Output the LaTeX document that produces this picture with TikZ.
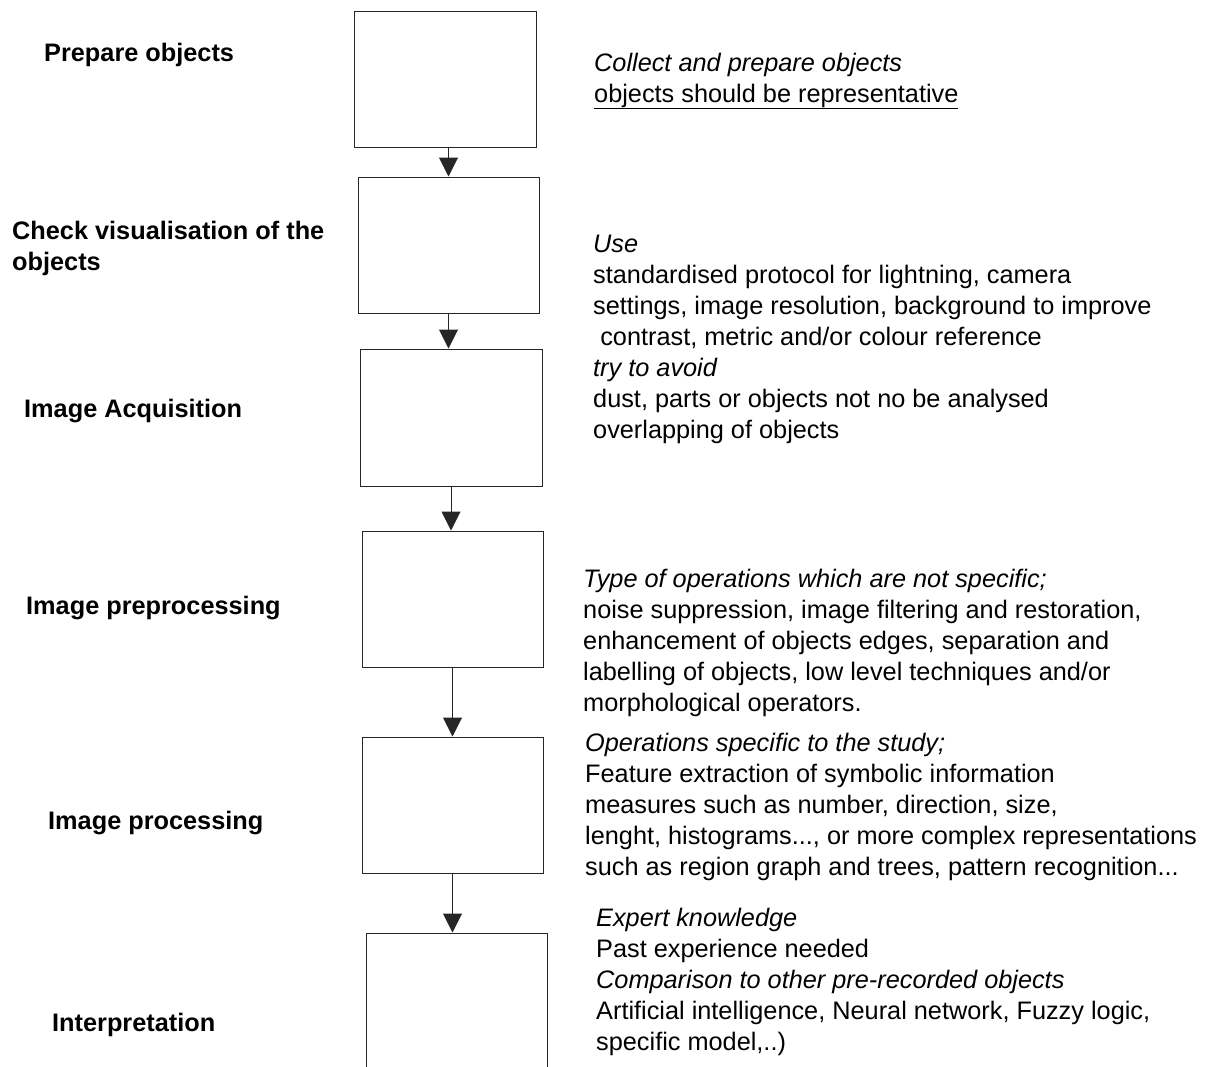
\documentclass[tikz,border=0pt]{standalone}
\usepackage{fontspec}
\setmainfont{Liberation Sans}
\usetikzlibrary{arrows.meta}

\newcommand{\bodysize}{\fontsize{25.3}{31}\selectfont}

\tikzset{
  stepbox/.style={draw=black!85, line width=1pt, minimum width=181pt, minimum height=136pt, inner sep=0pt},
  steplabel/.style={anchor=base west, font=\bodysize\bfseries, inner sep=0pt, align=left},
  note/.style={anchor=base west, font=\bodysize, inner sep=0pt, align=left},
  flow/.style={-{Triangle[length=19pt, width=19pt]}, line width=1pt, draw=black!85}
}

\begin{document}
\begin{tikzpicture}[x=1pt, y=-1pt]
    \clip (0,0) rectangle (1207,1066);

    % the steps
    \node[stepbox, minimum width=182pt] (prepbox) at (445,79) {};
    \node[stepbox] (visbox) at (448.5,245) {};
    \node[stepbox, minimum width=182pt, minimum height=137pt] (acqbox) at (451,417.5) {};
    \node[stepbox] (prebox) at (452.5,599) {};
    \node[stepbox] (procbox) at (452.5,805) {};
    \node[stepbox] (interbox) at (456.5,1001) {};

    \draw[flow] (prepbox.south -| visbox.north) -- (visbox.north);
    \foreach \a/\b in {visbox/acqbox, acqbox/prebox, prebox/procbox, procbox/interbox}
      \draw[flow] (\a.south) -- (\a.south |- \b.north);

    % step names (anchored on the last baseline)
    \node[steplabel] (preplabel) at (44,61) {Prepare objects};
    \node[steplabel] (vislabel) at (12,270) {Check visualisation of the\\objects};
    \node[steplabel] (acqlabel) at (24,417) {Image Acquisition};
    \node[steplabel] (prelabel) at (26,614) {Image preprocessing};
    \node[steplabel] (proclabel) at (48,829) {Image processing};
    \node[steplabel] (interlabel) at (52,1031) {Interpretation};

    % notes (anchored on the last baseline)
    \node[note] (prepnote) at (594,102) {\textit{Collect and prepare objects}\\
      \underline{objects should be representative}};
    \node[note] (visnote) at (593,438) {\textit{Use}\\
      standardised protocol for lightning, camera\\
      settings, image resolution, background to improve\\
      \hspace*{0.28em}contrast, metric and/or colour reference\\
      \textit{try to avoid}\\
      dust, parts or objects not no be analysed\\
      overlapping of objects};
    \node[note] (prenote) at (583,711) {\textit{Type of operations which are not specific;}\\
      noise suppression, image filtering and restoration,\\
      enhancement of objects edges, separation and\\
      labelling of objects, low level techniques and/or\\
      morphological operators.};
    \node[note] (procnote) at (585,875) {\textit{Operations specific to the study;}\\
      Feature extraction of symbolic information\\
      measures such as number, direction, size,\\
      lenght, histograms..., or more complex representations\\
      such as region graph and trees, pattern recognition...};
    \node[note] (internote) at (596,1050) {\textit{Expert knowledge}\\
      Past experience needed\\
      \textit{Comparison to other pre-recorded objects}\\
      Artificial intelligence, Neural network, Fuzzy logic,\\
      specific model,..)};

\end{tikzpicture}
\end{document}
